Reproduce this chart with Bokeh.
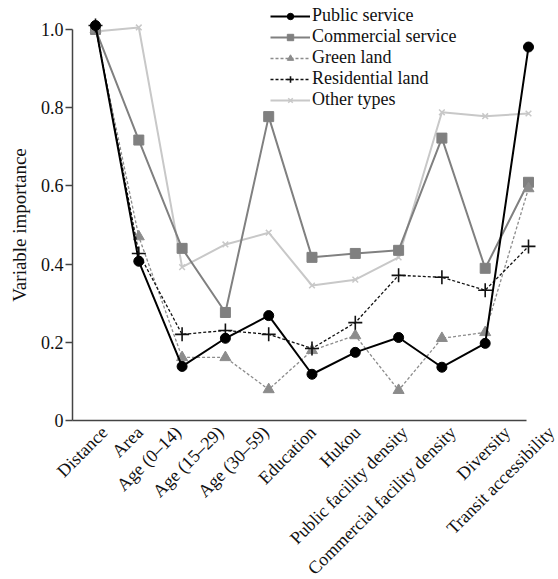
import math
from bokeh.plotting import figure
from bokeh.models import Range1d, FixedTicker, Legend, LegendItem, LinearAxis, ColumnDataSource
from bokeh.core.properties import value
from bokeh.embed import file_html
from bokeh.resources import INLINE

categories = ["Distance", "Area", "Age (0\u201314)", "Age (15\u201329)", "Age (30\u201359)",
              "Education", "Hukou", "Public facility density",
              "Commercial facility density", "Diversity", "Transit accessibility"]
public_service = [1.01, 0.407, 0.138, 0.21, 0.268, 0.118, 0.174, 0.212, 0.136, 0.197, 0.955]
commercial_service = [1.0, 0.717, 0.44, 0.276, 0.777, 0.417, 0.427, 0.435, 0.722, 0.389, 0.609]
green_land = [1.0, 0.47, 0.161, 0.161, 0.079, 0.179, 0.217, 0.077, 0.21, 0.225, 0.593]
residential_land = [1.01, 0.427, 0.22, 0.23, 0.22, 0.184, 0.25, 0.371, 0.366, 0.333, 0.445]
other_types = [0.995, 1.005, 0.392, 0.45, 0.48, 0.345, 0.36, 0.417, 0.788, 0.778, 0.785]
y_ticks = [0, 0.2, 0.4, 0.6, 0.8, 1.0]
y_tick_labels = ["0", "0.2", "0.4", "0.6", "0.8", "1.0"]

# layout: horizontal pixel shift of each rotated category label (as placed in the original)
label_shift_px = [12, 4, -1, -2, 0, 4, 5, 9, 14, 25, 26]

FONT = "Liberation Serif"
TXT = "#111111"
AX = "#444444"
x = list(range(len(categories)))

# The frame covers the whole canvas; axes are pinned at data locations inside it
p = figure(width=558, height=579, output_backend="svg", toolbar_location=None,
           x_range=Range1d(-2.194, 10.693), y_range=Range1d(-0.407, 1.074),
           x_axis_type=None, y_axis_type=None,
           min_border_left=0, min_border_top=0, min_border_right=0, min_border_bottom=0)
p.grid.visible = False
p.outline_line_color = None
p.background_fill_color = "white"

xaxis = LinearAxis(fixed_location=0, ticker=FixedTicker(ticks=[]))
xaxis.bounds = (-0.53, 9.95)
xaxis.major_tick_line_color = None
xaxis.minor_tick_line_color = None
xaxis.axis_line_color = AX
xaxis.axis_line_width = 1.5
p.add_layout(xaxis, "below")

yaxis = LinearAxis(fixed_location=-0.53, ticker=FixedTicker(ticks=y_ticks))
yaxis.major_label_overrides = {t: l for t, l in zip(y_ticks, y_tick_labels)}
yaxis.bounds = (0, 1.0)
yaxis.minor_tick_line_color = None
yaxis.major_tick_in = 0
yaxis.major_tick_out = 7
yaxis.major_tick_line_color = AX
yaxis.major_tick_line_width = 1.5
yaxis.axis_line_color = AX
yaxis.axis_line_width = 1.5
yaxis.major_label_standoff = 2
yaxis.major_label_text_font = FONT
yaxis.major_label_text_font_size = "18px"
yaxis.major_label_text_color = TXT
yaxis.axis_label = "Variable importance"
yaxis.axis_label_text_font = FONT
yaxis.axis_label_text_font_size = "19px"
yaxis.axis_label_text_font_style = "normal"
yaxis.axis_label_text_color = TXT
yaxis.axis_label_standoff = 8
p.add_layout(yaxis, "left")

# category labels, rotated, hanging under the x axis
lab = ColumnDataSource(dict(x=x, y=[0] * len(x), text=categories,
                            dx=[d - 3 for d in label_shift_px]))
p.text(x="x", y="y", text="text", source=lab, angle=math.pi / 4,
       x_offset="dx", y_offset=9, text_align="right", text_baseline="middle",
       text_font=value(FONT), text_font_size="18px", text_color=TXT)

# Other types
l5 = p.line(x, other_types, line_color="#c8c8c8", line_width=2)
m5 = p.scatter(x, other_types, marker="x", size=8, line_color="#c8c8c8", line_width=1.5)
# Commercial service
l2 = p.line(x, commercial_service, line_color="#808080", line_width=2)
m2 = p.scatter(x, commercial_service, marker="square", size=10, fill_color="#808080", line_color="#808080")
# Green land
l3 = p.line(x, green_land, line_color="#8c8c8c", line_width=1.3, line_dash="3 2")
m3 = p.scatter(x, green_land, marker="triangle", size=11, fill_color="#8c8c8c", line_color="#8c8c8c")
# Residential land
l4 = p.line(x, residential_land, line_color="#111111", line_width=1.3, line_dash="3 2")
m4 = p.scatter(x, residential_land, marker="cross", size=14, line_color="#111111", line_width=1.6)
# Public service
l1 = p.line(x, public_service, line_color="#000000", line_width=2)
m1 = p.scatter(x, public_service, marker="circle", size=10, fill_color="#000000", line_color="#000000")

legend = Legend(items=[
    LegendItem(label="Public service", renderers=[l1, m1]),
    LegendItem(label="Commercial service", renderers=[l2, m2]),
    LegendItem(label="Green land", renderers=[l3, m3]),
    LegendItem(label="Residential land", renderers=[l4, m4]),
    LegendItem(label="Other types", renderers=[l5, m5]),
], location=(270, 469))
legend.label_text_font = FONT
legend.label_text_font_size = "18px"
legend.label_text_color = TXT
legend.glyph_width = 40
legend.glyph_height = 16
legend.spacing = 0
legend.padding = 0
legend.margin = 0
legend.label_standoff = 2
legend.border_line_color = None
legend.background_fill_alpha = 0
legend.label_height = 16
p.add_layout(legend, "center")

open("out.html", "w").write(file_html(p, INLINE))
